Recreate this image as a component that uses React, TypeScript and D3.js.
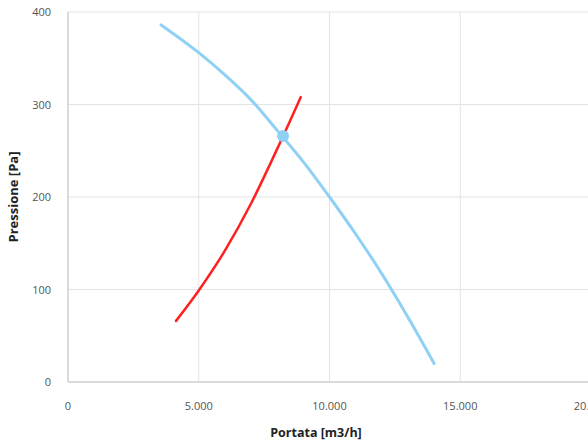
import React from "react";
import * as d3 from "d3";

const xTicks = [0, 5000, 10000, 15000, 20000];
const yTicks = [0, 100, 200, 300, 400];
const fanCurve: [number, number][] = [
  [3560, 386], [5000, 356], [6000, 332], [7000, 305], [8000, 272], [9000, 238],
  [10000, 200], [11000, 160], [12000, 117], [13000, 70], [14000, 20],
];
const systemCurve: [number, number][] = [
  [4130, 66], [5000, 99], [6000, 142], [7000, 193], [8000, 252], [8900, 308],
];
const workPoint: [number, number] = [8225, 266];

const W = 588, H = 445;
const fmt = (v: number) => v === 0 ? "0" : d3.format(",")(v).replace(/,/g, ".");

export default function App() {
  const x = d3.scaleLinear().domain([0, 20000]).range([68, 591]);
  const y = d3.scaleLinear().domain([0, 400]).range([382, 12]);
  const line = d3.line<[number, number]>().x(d => x(d[0])).y(d => y(d[1])).curve(d3.curveMonotoneX);
  const font = "'Open Sans', 'DejaVu Sans', sans-serif";
  return (
    <svg width={W} height={H} style={{ position: "absolute", left: 0, top: 0 }} fontFamily={font}>
      <rect width={W} height={H} fill="#fff" />
      {xTicks.slice(1).map(t => (
        <line key={"gx" + t} x1={x(t)} x2={x(t)} y1={y(400)} y2={y(0)} stroke="#e3e3e3" strokeWidth={1} />
      ))}
      {yTicks.slice(1).map(t => (
        <line key={"gy" + t} x1={x(0)} x2={W} y1={y(t)} y2={y(t)} stroke="#e3e3e3" strokeWidth={1} />
      ))}
      <line x1={x(0)} x2={x(0)} y1={y(400)} y2={y(0)} stroke="#cfcfcf" strokeWidth={1.5} />
      <line x1={x(0)} x2={W} y1={y(0)} y2={y(0)} stroke="#cfcfcf" strokeWidth={1.5} />
      {yTicks.map(t => (
        <text key={"ty" + t} x={51} y={y(t) + 4} textAnchor="end" fontSize={11} fill="#555">{t}</text>
      ))}
      {xTicks.map(t => (
        <text key={"tx" + t} x={x(t)} y={410} textAnchor="middle" fontSize={11} fill="#555">{fmt(t)}</text>
      ))}
      <text x={316} y={437} textAnchor="middle" fontSize={12.5} fontWeight="bold" fill="#222">Portata [m3/h]</text>
      <text transform={`translate(18,${y(200)}) rotate(-90)`} textAnchor="middle" fontSize={13} fontWeight="bold" fill="#222">Pressione [Pa]</text>
      <path d={line(fanCurve) || ""} fill="none" stroke="#8fd0f5" strokeWidth={3} strokeLinecap="round" />
      <path d={line(systemCurve) || ""} fill="none" stroke="#ff2020" strokeWidth={2.5} strokeLinecap="round" />
      <circle cx={x(workPoint[0])} cy={y(workPoint[1])} r={6} fill="#8fd0f5" />
    </svg>
  );
}
